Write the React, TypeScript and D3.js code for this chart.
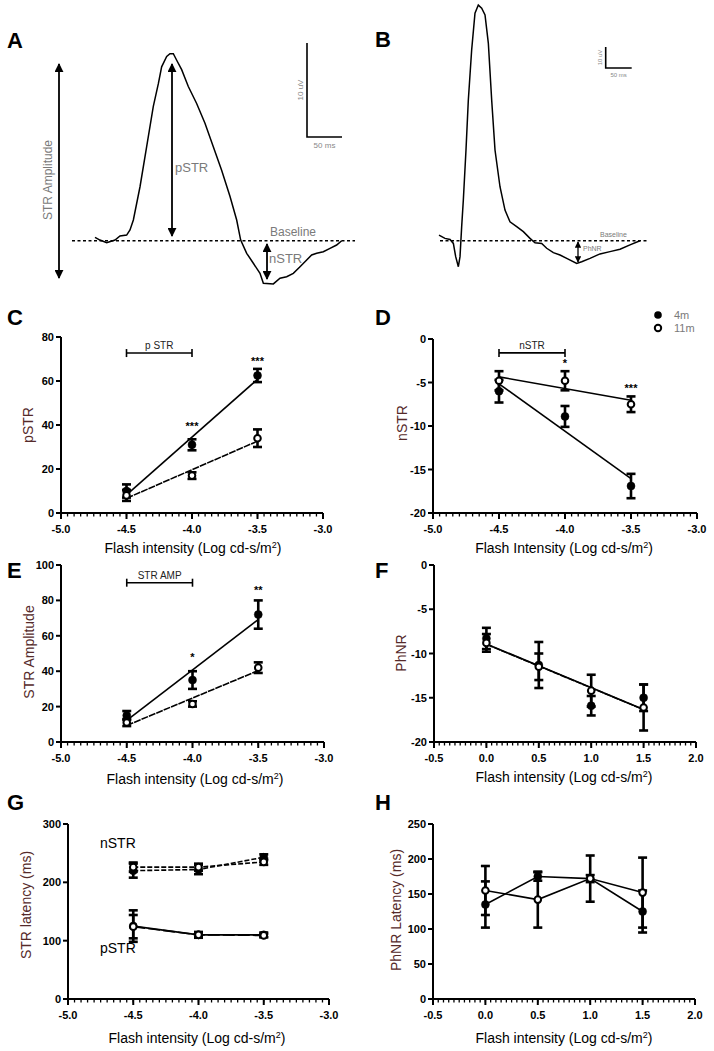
import React from "react";
import * as d3 from "d3";

const FONT = "'Liberation Sans', Arial, sans-serif";
const YLAB = "#552a2a";

// ---------- Trace data (ms, µV) ----------
const traceA_t = [0, 7.1, 16.7, 28.6, 35.7, 45.2, 50, 54.8, 64.3, 73.8, 83.3, 90.5, 95.2, 102.4, 107.1, 111.9, 116.7, 123.8, 133.3, 145.2, 157.1, 169, 180.9, 192.9, 202.4, 208.1, 216.7, 226.2, 235.7, 240.5, 254.8, 264.3, 273.8, 283.3, 292.9, 302.4, 309.5, 316.7, 326.2, 335.7, 345.2, 352.4];
const traceA_v = [0.36, 0.07, -0.21, 0.07, 0.5, 0.6, 1.14, 2.2, 5.74, 10.0, 14.3, 16.7, 18.5, 19.6, 19.9, 19.9, 19.2, 18.2, 16.4, 14.6, 12.5, 10.0, 7.5, 4.7, 2.2, 0.07, -1.34, -2.4, -3.47, -4.53, -4.6, -4.0, -3.83, -3.47, -2.77, -2.05, -1.52, -1.34, -1.17, -0.81, -0.46, 0];
const traceB_t = [0, 11.5, 21.2, 27.6, 32.1, 37.2, 40.4, 43.6, 46.8, 51.9, 56.4, 62.8, 69.2, 75.6, 82.1, 88.5, 94.9, 101.3, 107.7, 117.3, 126.9, 136.5, 149.4, 162.2, 175, 184.6, 197.5, 207.1, 219.9, 232.7, 245.6, 264.8, 274.4, 290.4, 309.6, 328.8, 348.1, 367.3, 386.5];
const traceB_v = [2.7, 1.1, 0.6, -1.3, -7.6, -12.4, -7.6, 6.7, 19.4, 43.2, 67, 90.8, 108.3, 112.2, 110.7, 107.5, 94, 67, 43.2, 25.7, 14.6, 9.0, 6.7, 4.3, 1.1, -0.95, -1.3, -3.6, -5.7, -6.8, -8.4, -10.8, -10, -8.4, -6.3, -5.2, -4.1, -2.0, 0];

// ---------- Intensities ----------
const scotopicX = [-4.5, -4.0, -3.5];
const photopicX = [0, 0.5, 1.0, 1.5];

// ---------- C: pSTR ----------
const pSTR_4m = [10, 31, 62.5];
const pSTR_4m_err = [3, 2.5, 3];
const pSTR_11m = [8, 17, 34];
const pSTR_11m_err = [2.5, 1.5, 4];

// ---------- D: nSTR ----------
const nSTR_4m = [-6.0, -8.9, -16.9];
const nSTR_4m_err = [1.3, 1.2, 1.4];
const nSTR_11m = [-4.8, -4.8, -7.5];
const nSTR_11m_err = [1.1, 1.1, 0.9];

// ---------- E: STR amplitude ----------
const amp_4m = [15, 35, 72];
const amp_4m_err = [2.5, 5, 8];
const amp_11m = [11, 21.5, 42];
const amp_11m_err = [2, 1.5, 3];

// ---------- F: PhNR ----------
const phnr_4m = [-8.3, -11.3, -15.9, -15.0];
const phnr_4m_err = [1.2, 2.6, 1.1, 1.5];
const phnr_11m = [-8.8, -11.5, -14.2, -16.1];
const phnr_11m_err = [1.0, 1.5, 1.8, 2.6];

// ---------- G: STR latency ----------
const nLat_4m = [220, 222, 243];
const nLat_4m_err = [12, 8, 5];
const nLat_11m = [226, 226, 235];
const nLat_11m_err = [8, 6, 5];
const pLat_4m = [125, 110, 110];
const pLat_4m_err = [27, 5, 4];
const pLat_11m = [124, 110, 109];
const pLat_11m_err = [20, 4, 3];

// ---------- H: PhNR latency ----------
const phLat_4m = [135, 175, 172, 125];
const phLat_4m_err = [33, 6, 33, 30];
const phLat_11m = [155, 142, 172, 152];
const phLat_11m_err = [35, 40, 5, 50];

// ---------- ticks ----------
const scotTicks = [-5.0, -4.5, -4.0, -3.5, -3.0];
const photTicks = [-0.5, 0.0, 0.5, 1.0, 1.5, 2.0];
const tickC = [0, 20, 40, 60, 80];
const tickD = [0, -5, -10, -15, -20];
const tickE = [0, 20, 40, 60, 80, 100];
const tickF = [0, -5, -10, -15, -20];
const tickG = [0, 100, 200, 300];
const tickH = [0, 50, 100, 150, 200, 250];

const XLAB = "Flash intensity (Log cd-s/m";

type S = { v: number[]; e: number[]; filled: boolean; dash?: string; lw?: number };

function fit(xs: number[], ys: number[]) {
  const mx = d3.mean(xs)!;
  const my = d3.mean(ys)!;
  let num = 0, den = 0;
  xs.forEach((x, i) => { num += (x - mx) * (ys[i] - my); den += (x - mx) ** 2; });
  const b = num / den;
  return (x: number) => my + b * (x - mx);
}

function Panel(p: any) {
  const x = d3.scaleLinear().domain(p.xDomain).range(p.xRange);
  const y = d3.scaleLinear().domain(p.yDomain).range(p.yRange);
  const [x0, x1] = p.xRange;
  const [yb, yt] = p.yRange;
  const minor = d3.range(p.xDomain[0], p.xDomain[1] + 1e-9, p.minorStep);
  const xs: number[] = p.xs;
  const line = d3.line<[number, number]>().x(d => x(d[0])).y(d => y(d[1]));
  return (
    <g>
      <text x={p.letterPos[0]} y={p.letterPos[1]} fontSize={22} fontFamily={FONT} fontWeight="bold">{p.letter}</text>
      {p.series.map((s: S, i: number) => {
        let pts: [number, number][];
        if (p.mode === "fit") {
          const f = fit(xs, s.v);
          pts = [[xs[0], f(xs[0])], [xs[xs.length - 1], f(xs[xs.length - 1])]];
        } else {
          pts = xs.map((xx, j) => [xx, s.v[j]] as [number, number]);
        }
        return <path key={"l" + i} d={line(pts)!} fill="none" stroke="#000" strokeWidth={s.lw ?? 1.6} strokeDasharray={s.dash} />;
      })}
      {p.series.map((s: S, i: number) => (
        <g key={"m" + i}>
          {xs.map((xx, j) => {
            const cx = x(xx);
            const ya = y(s.v[j] + s.e[j]);
            const yb2 = y(s.v[j] - s.e[j]);
            return (
              <g key={j}>
                <line x1={cx} x2={cx} y1={ya} y2={yb2} stroke="#000" strokeWidth={2.6} />
                <line x1={cx - 4.5} x2={cx + 4.5} y1={ya} y2={ya} stroke="#000" strokeWidth={2.6} />
                <line x1={cx - 4.5} x2={cx + 4.5} y1={yb2} y2={yb2} stroke="#000" strokeWidth={2.6} />
              </g>
            );
          })}
        </g>
      ))}
      {p.series.map((s: S, i: number) => (
        <g key={"c" + i}>
          {xs.map((xx, j) => (
            <circle key={j} cx={x(xx)} cy={y(s.v[j])} r={s.filled ? 4 : 3.3}
              fill={s.filled ? "#000" : "#fff"} stroke="#000" strokeWidth={s.filled ? 0.5 : 2} />
          ))}
        </g>
      ))}
      {(p.stars || []).map((st: any, i: number) => (
        <text key={"s" + i} x={x(st.x)} y={y(st.y) + 4} textAnchor="middle" fontSize={11} fontWeight="bold" fontFamily={FONT}>{st.t}</text>
      ))}
      {p.bracket && (
        <g stroke="#000" strokeWidth={1.6}>
          <line x1={x(p.bracket.x0)} x2={x(p.bracket.x1)} y1={y(p.bracket.y)} y2={y(p.bracket.y)} />
          <line x1={x(p.bracket.x0)} x2={x(p.bracket.x0)} y1={y(p.bracket.y) - 4} y2={y(p.bracket.y) + 4} />
          <line x1={x(p.bracket.x1)} x2={x(p.bracket.x1)} y1={y(p.bracket.y) - 4} y2={y(p.bracket.y) + 4} />
          <text x={(x(p.bracket.x0) + x(p.bracket.x1)) / 2} y={y(p.bracket.y) - 4} textAnchor="middle" fontSize={10} fontFamily={FONT} stroke="none" fill="#222">{p.bracket.label}</text>
        </g>
      )}
      <line x1={x0} x2={x0} y1={yb + 1} y2={yt} stroke="#000" strokeWidth={2} />
      <line x1={x0 - 1} x2={x1} y1={yb} y2={yb} stroke="#000" strokeWidth={2} />
      {minor.map((m, i) => (
        <line key={"mi" + i} x1={x(m)} x2={x(m)} y1={yb} y2={yb + 3.5} stroke="#000" strokeWidth={1.3} />
      ))}
      {p.xTicks.map((t: number, i: number) => (
        <g key={"xt" + i}>
          <line x1={x(t)} x2={x(t)} y1={yb} y2={yb + 6} stroke="#000" strokeWidth={2} />
          <text x={x(t)} y={yb + 20} textAnchor="middle" fontSize={11} fontWeight="bold" fontFamily={FONT}>{t.toFixed(1)}</text>
        </g>
      ))}
      {p.yTicks.map((t: number, i: number) => (
        <g key={"yt" + i}>
          <line x1={x0 - 5} x2={x0} y1={y(t)} y2={y(t)} stroke="#000" strokeWidth={2} />
          <text x={x0 - 7} y={y(t) + 4} textAnchor="end" fontSize={11} fontWeight="bold" fontFamily={FONT}>{t}</text>
        </g>
      ))}
      <text x={p.xLabelPos[0]} y={p.xLabelPos[1]} textAnchor="middle" fontSize={14} fontFamily={FONT}>
        {p.xLabel}<tspan fontSize={9} dy={-5}>2</tspan><tspan dy={5}>)</tspan>
      </text>
      <text transform={`translate(${p.yLabelPos[0]},${p.yLabelPos[1]}) rotate(-90)`} textAnchor="middle" fontSize={14} fontFamily={FONT} fill={p.yLabelColor ?? YLAB}>{p.yLabel}</text>
      {p.extra}
    </g>
  );
}

function Trace(p: any) {
  const x = d3.scaleLinear().domain([0, 50]).range(p.xr);
  const y = d3.scaleLinear().domain([0, 10]).range(p.yr);
  const pts = p.t.map((t: number, i: number) => [t, p.v[i]] as [number, number]);
  const line = d3.line<[number, number]>().x(d => x(d[0])).y(d => y(d[1]));
  const bx = p.bar[0], by = p.bar[1];
  const w = x(50) - x(0);
  const h = y(0) - y(10);
  return (
    <g>
      <line x1={p.base[0]} x2={p.base[1]} y1={y(0)} y2={y(0)} stroke="#000" strokeWidth={1.6} strokeDasharray="3,2.5" />
      <path d={line(pts)!} fill="none" stroke="#000" strokeWidth={1.5} />
      <path d={`M${bx},${by - h}V${by}H${bx + w}`} fill="none" stroke="#000" strokeWidth={1.6} />
      <text x={bx + w / 2} y={by + p.barFs + 3} textAnchor="middle" fontSize={p.barFs} fontFamily={FONT} fill="#888">50 ms</text>
      <text transform={`translate(${bx - 4},${by - h / 2}) rotate(-90)`} textAnchor="middle" fontSize={p.barFs} fontFamily={FONT} fill="#888">10 uV</text>
      {p.children}
    </g>
  );
}

export default function App() {
  const gray = "#7a7a7a";
  return (
    <svg width={714} height={1051} style={{ position: "absolute", left: 0, top: 0, background: "#fff" }}>
      <defs>
        <marker id="ah" viewBox="0 0 10 10" refX="9" refY="5" markerWidth="5" markerHeight="5" orient="auto-start-reverse">
          <path d="M0,0L10,5L0,10z" fill="#000" />
        </marker>
      </defs>
      <rect width={714} height={1051} fill="#fff" />
      <text x={7} y={48} fontSize={22} fontFamily={FONT} fontWeight="bold">A</text>
      <Trace t={traceA_t} v={traceA_v} xr={[95, 130]} yr={[240.7, 146.7]} base={[72, 355]} bar={[307, 137]} barFs={8}>
        <line x1={59} x2={59} y1={64} y2={278} stroke="#000" strokeWidth={1.8} markerStart="url(#ah)" markerEnd="url(#ah)" />
        <text transform="translate(52,180) rotate(-90)" textAnchor="middle" fontSize={12} fontFamily={FONT} fill={gray}>STR Amplitude</text>
        <line x1={172} x2={172} y1={64} y2={236} stroke="#000" strokeWidth={1.8} markerStart="url(#ah)" markerEnd="url(#ah)" />
        <text x={175} y={172} fontSize={13} fontFamily={FONT} fill={gray}>pSTR</text>
        <line x1={267} x2={267} y1={244} y2={279} stroke="#000" strokeWidth={1.8} markerStart="url(#ah)" markerEnd="url(#ah)" />
        <text x={269} y={263} fontSize={13} fontFamily={FONT} fill={gray}>nSTR</text>
        <text x={270} y={236} fontSize={12} fontFamily={FONT} fill={gray}>Baseline</text>
      </Trace>
      <text x={375} y={47} fontSize={22} fontFamily={FONT} fontWeight="bold">B</text>
      <Trace t={traceB_t} v={traceB_v} xr={[439, 465]} yr={[240.7, 219.7]} base={[440, 648]} bar={[605.7, 68]} barFs={6}>
        <line x1={578} x2={578} y1={242} y2={262} stroke="#000" strokeWidth={1.3} markerStart="url(#ah)" markerEnd="url(#ah)" />
        <text x={583} y={251} fontSize={7} fontFamily={FONT} fill={gray}>PhNR</text>
        <text x={600} y={237} fontSize={7} fontFamily={FONT} fill={gray}>Baseline</text>
      </Trace>

      <Panel letter="C" letterPos={[7, 325]} xDomain={[-5, -3]} xRange={[61, 323]} yDomain={[0, 80]} yRange={[513, 337]}
        xTicks={scotTicks} yTicks={tickC} minorStep={0.05} xs={scotopicX} mode="fit"
        xLabel={XLAB} xLabelPos={[193, 553]} yLabel="pSTR" yLabelPos={[33, 425]}
        series={[{ v: pSTR_4m, e: pSTR_4m_err, filled: true }, { v: pSTR_11m, e: pSTR_11m_err, filled: false, dash: "7,1" }]}
        stars={[{ x: -4.0, y: 39.5, t: "***" }, { x: -3.5, y: 69, t: "***" }]}
        bracket={{ x0: -4.5, x1: -4.0, y: 72.7, label: "p STR" }} />

      <Panel letter="D" letterPos={[375, 325]} xDomain={[-5, -3]} xRange={[433, 697]} yDomain={[-20, 0]} yRange={[513, 339]}
        xTicks={scotTicks} yTicks={tickD} minorStep={0.05} xs={scotopicX} mode="fit"
        xLabel="Flash Intensity (Log cd-s/m" xLabelPos={[564, 553]} yLabel="nSTR" yLabelPos={[407, 423]}
        series={[{ v: nSTR_4m, e: nSTR_4m_err, filled: true }, { v: nSTR_11m, e: nSTR_11m_err, filled: false }]}
        stars={[{ x: -4.0, y: -2.8, t: "*" }, { x: -3.5, y: -5.6, t: "***" }]}
        bracket={{ x0: -4.5, x1: -4.0, y: -1.6, label: "nSTR" }}
        extra={
          <g>
            <circle cx={658} cy={315} r={3.8} fill="#000" />
            <text x={674} y={319} fontSize={11} fontFamily={FONT} fill={gray}>4m</text>
            <circle cx={658} cy={328} r={3.2} fill="#fff" stroke="#000" strokeWidth={2} />
            <text x={674} y={332} fontSize={11} fontFamily={FONT} fill={gray}>11m</text>
          </g>
        } />

      <Panel letter="E" letterPos={[7, 578]} xDomain={[-5, -3]} xRange={[61, 324]} yDomain={[0, 100]} yRange={[742, 565]}
        xTicks={scotTicks} yTicks={tickE} minorStep={0.05} xs={scotopicX} mode="fit"
        xLabel={XLAB} xLabelPos={[195, 784]} yLabel="STR Amplitude" yLabelPos={[34, 652]}
        series={[{ v: amp_4m, e: amp_4m_err, filled: true }, { v: amp_11m, e: amp_11m_err, filled: false, dash: "7,1" }]}
        stars={[{ x: -4.0, y: 48, t: "*" }, { x: -3.5, y: 86, t: "**" }]}
        bracket={{ x0: -4.5, x1: -4.0, y: 90, label: "STR AMP" }} />

      <Panel letter="F" letterPos={[375, 578]} xDomain={[-0.5, 2]} xRange={[434, 696]} yDomain={[-20, 0]} yRange={[742, 565]}
        xTicks={photTicks} yTicks={tickF} minorStep={0.05} xs={photopicX} mode="fit"
        xLabel={XLAB} xLabelPos={[564, 782]} yLabel="PhNR" yLabelPos={[406, 653]}
        series={[{ v: phnr_4m, e: phnr_4m_err, filled: true }, { v: phnr_11m, e: phnr_11m_err, filled: false, dash: "7,1" }]} />

      <Panel letter="G" letterPos={[7, 810]} xDomain={[-5, -3]} xRange={[68, 329]} yDomain={[0, 300]} yRange={[999, 824]}
        xTicks={scotTicks} yTicks={tickG} minorStep={0.05} xs={scotopicX} mode="connect"
        xLabel={XLAB} xLabelPos={[197, 1043]} yLabel="STR latency (ms)" yLabelPos={[31, 905]}
        series={[
          { v: nLat_4m, e: nLat_4m_err, filled: true, dash: "5,2" },
          { v: nLat_11m, e: nLat_11m_err, filled: false, dash: "5,2" },
          { v: pLat_4m, e: pLat_4m_err, filled: true },
          { v: pLat_11m, e: pLat_11m_err, filled: false, dash: "12,3" },
        ]}
        extra={
          <g>
            <text x={100} y={848} fontSize={14} fontFamily={FONT}>nSTR</text>
            <text x={100} y={953} fontSize={14} fontFamily={FONT}>pSTR</text>
          </g>
        } />

      <Panel letter="H" letterPos={[375, 810]} xDomain={[-0.5, 2]} xRange={[433, 695]} yDomain={[0, 250]} yRange={[999, 824]}
        xTicks={photTicks} yTicks={tickH} minorStep={0.05} xs={photopicX} mode="connect"
        xLabel={XLAB} xLabelPos={[564, 1043]} yLabel="PhNR Latency (ms)" yLabelPos={[401, 910]}
        series={[{ v: phLat_4m, e: phLat_4m_err, filled: true }, { v: phLat_11m, e: phLat_11m_err, filled: false }]} />
    </svg>
  );
}
